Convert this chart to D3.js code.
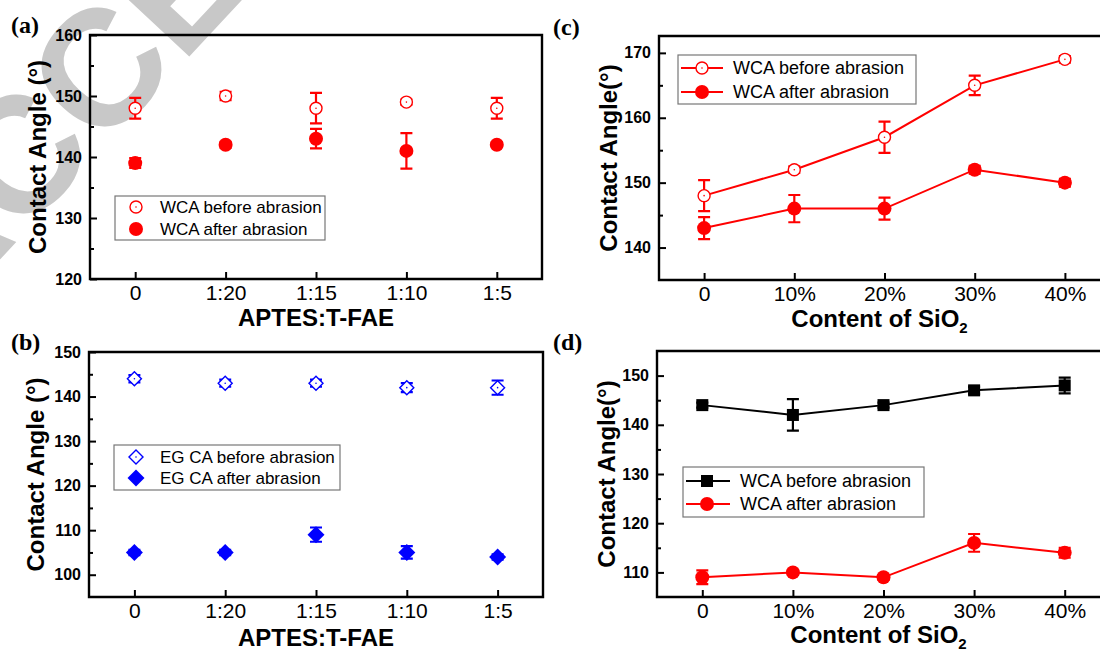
<!DOCTYPE html>
<html>
<head>
<meta charset="utf-8">
<script src="https://cdn.jsdelivr.net/npm/d3@7"></script>
<style>
  body { margin: 0; background: #fff; }
  text { font-family: "Liberation Sans", Arial, sans-serif; }
</style>
</head>
<body>
<script>
// x categories
var ratioLabels = ['0', '1:20', '1:15', '1:10', '1:5'];
var sio2Labels = ['0', '10%', '20%', '30%', '40%'];

// (a) water contact angle vs APTES:T-FAE
var wcaBeforeA = [148, 150, 148, 149, 148];
var wcaBeforeErrA = [1.7, 0.7, 2.5, 0.4, 1.7];
var wcaAfterA = [139, 142, 143, 141, 142];
var wcaAfterErrA = [0.8, 0.5, 1.6, 2.9, 0.4];

// (b) ethylene glycol contact angle vs APTES:T-FAE
var egBeforeB = [144, 143, 143, 142, 142];
var egBeforeErrB = [0.8, 0.8, 0.8, 1.0, 1.6];
var egAfterB = [105, 105, 109, 105, 104];
var egAfterErrB = [0.6, 0.6, 1.6, 1.4, 0.6];

// (c) water contact angle vs SiO2 content
var wcaBeforeC = [148, 152, 157, 165, 169];
var wcaBeforeErrC = [2.4, 0.5, 2.4, 1.5, 0.5];
var wcaAfterC = [143, 146, 146, 152, 150];
var wcaAfterErrC = [1.7, 2.1, 1.7, 0.6, 0.6];

// (d) contact angle vs SiO2 content
var wcaBeforeD = [144, 142, 144, 147, 148];
var wcaBeforeErrD = [0.5, 3.2, 0.5, 0.7, 1.6];
var wcaAfterD = [109, 110, 109, 116, 114];
var wcaAfterErrD = [1.4, 0.5, 0.5, 1.8, 1.0];

var svg = d3.select("body").append("svg")
    .attr("width", 1100)
    .attr("height", 653);

// faint "accepted manuscript" stamp behind the panels
svg.append("text")
    .attr("transform", "translate(-62,326) rotate(-47)")
    .attr("font-size", 165)
    .attr("font-weight", "bold")
    .attr("fill", "#c8c8c8")
    .text("ACCEPTED MANUSCRIPT");

function marker(g, type, color) {
  if (type == "openCircle") {
    g.append("circle").attr("r", 6).attr("fill", "#fff").attr("stroke", color).attr("stroke-width", 1.4);
    g.append("circle").attr("r", 0.8).attr("fill", color);
  } else if (type == "circle") {
    g.append("circle").attr("r", 7).attr("fill", color);
  } else if (type == "openDiamond") {
    g.append("path").attr("d", "M0,-7L7,0L0,7L-7,0Z").attr("fill", "#fff").attr("stroke", color).attr("stroke-width", 1.4);
    g.append("circle").attr("r", 0.8).attr("fill", color);
  } else if (type == "diamond") {
    g.append("path").attr("d", "M0,-8.5L8.5,0L0,8.5L-8.5,0Z").attr("fill", color);
  } else if (type == "square") {
    g.append("rect").attr("x", -6).attr("y", -6).attr("width", 12).attr("height", 12).attr("fill", color);
  }
}

function panel(p) {
  var x = d3.scaleLinear().domain([-0.5, 4.5]).range([p.left, p.right]);
  var y = d3.scaleLinear().domain(p.yDomain).range([p.bottom, p.top]);
  var g = svg.append("g");

  // minor ticks
  g.append("g")
      .attr("transform", "translate(" + p.left + ",0)")
      .call(d3.axisLeft(y).tickValues(p.yMinor).tickSize(-4).tickFormat(""))
      .call(function(s) { s.select(".domain").remove(); s.selectAll("line").attr("stroke-width", 2); });

  g.append("g")
      .attr("transform", "translate(" + p.left + ",0)")
      .call(d3.axisLeft(y).tickValues(p.yTicks).tickSize(-7).tickPadding(8))
      .call(function(s) {
        s.select(".domain").remove();
        s.selectAll("line").attr("stroke-width", 2);
        s.selectAll("text").attr("font-size", 16).attr("font-weight", "bold").attr("fill", "#000");
      });

  g.append("g")
      .attr("transform", "translate(0," + p.bottom + ")")
      .call(d3.axisBottom(x).tickValues([0, 1, 2, 3, 4]).tickSize(-7).tickPadding(6)
              .tickFormat(function(i) { return p.xLabels[i]; }))
      .call(function(s) {
        s.select(".domain").remove();
        s.selectAll("line").attr("stroke-width", 2);
        s.selectAll("text").attr("font-size", 21).attr("fill", "#000");
      });

  // frame
  g.append("path")
      .attr("d", "M" + p.left + "," + p.top + "H" + p.right + "V" + p.bottom + "H" + p.left + "Z")
      .attr("fill", "none").attr("stroke", "#000").attr("stroke-width", 2.4);

  p.series.forEach(function(s) {
    if (s.line) {
      g.append("path")
          .attr("d", d3.line().x(function(d, i) { return x(i); }).y(function(d) { return y(d); })(s.values))
          .attr("fill", "none").attr("stroke", s.color).attr("stroke-width", 2);
    }
    s.values.forEach(function(v, i) {
      var e = s.errors[i];
      var cx = x(i);
      g.append("path")
          .attr("d", "M" + cx + "," + y(v - e) + "V" + y(v + e) +
                     "M" + (cx - 6) + "," + y(v - e) + "H" + (cx + 6) +
                     "M" + (cx - 6) + "," + y(v + e) + "H" + (cx + 6))
          .attr("fill", "none").attr("stroke", s.color).attr("stroke-width", 2.2);
      marker(g.append("g").attr("transform", "translate(" + cx + "," + y(v) + ")"), s.marker, s.color);
    });
  });

  // legend
  var L = p.legend;
  g.append("rect")
      .attr("x", L.x).attr("y", L.y).attr("width", L.w).attr("height", L.h)
      .attr("fill", "#fff").attr("stroke", "#777").attr("stroke-width", 1.2);
  p.series.forEach(function(s, k) {
    var ry = L.rows[k];
    if (s.line) {
      g.append("line").attr("x1", L.x + 3).attr("x2", L.x + 3 + L.lineW)
          .attr("y1", ry).attr("y2", ry).attr("stroke", s.color).attr("stroke-width", 2);
    }
    marker(g.append("g").attr("transform", "translate(" + L.mx + "," + ry + ")"), s.marker, s.color);
    g.append("text").attr("x", L.tx).attr("y", ry).attr("dy", "0.36em")
        .attr("font-size", L.fs).text(s.name);
  });

  // axis titles
  g.append("text")
      .attr("transform", "translate(" + p.yTitleX + "," + ((p.top + p.bottom) / 2) + ") rotate(-90)")
      .attr("text-anchor", "middle").attr("font-size", 24).attr("font-weight", "bold")
      .text(p.yTitle);
  var xt = g.append("text")
      .attr("x", (p.left + Math.min(p.right, 1100)) / 2).attr("y", p.xTitleY)
      .attr("text-anchor", "middle").attr("font-size", 24).attr("font-weight", "bold");
  xt.append("tspan").text(p.xTitle);
  if (p.xSub) {
    xt.append("tspan").attr("font-size", 15).attr("dy", 6).text(p.xSub);
  }

  svg.append("text")
      .attr("x", p.tagX).attr("y", p.tagY)
      .style("font-family", "'Liberation Serif', 'Times New Roman', serif")
      .attr("font-weight", "bold").attr("font-size", 24)
      .text(p.tag);
}

panel({
  tag: "(a)", tagX: 11, tagY: 33,
  left: 90, right: 542, top: 35, bottom: 279,
  yDomain: [120, 160], yTicks: [120, 130, 140, 150, 160], yMinor: [125, 135, 145, 155],
  xLabels: ratioLabels,
  yTitle: "Contact Angle (\u00b0)", yTitleX: 46,
  xTitle: "APTES:T-FAE", xTitleY: 326,
  series: [
    {name: "WCA before abrasion", values: wcaBeforeA, errors: wcaBeforeErrA, marker: "openCircle", color: "#ff0000"},
    {name: "WCA after abrasion", values: wcaAfterA, errors: wcaAfterErrA, marker: "circle", color: "#ff0000"}
  ],
  legend: {x: 115, y: 196, w: 210, h: 44, rows: [207, 229], mx: 136, tx: 160, fs: 17}
});

panel({
  tag: "(b)", tagX: 11, tagY: 350,
  left: 89, right: 543, top: 352, bottom: 597,
  yDomain: [95, 150], yTicks: [100, 110, 120, 130, 140, 150], yMinor: [105, 115, 125, 135, 145],
  xLabels: ratioLabels,
  yTitle: "Contact Angle (\u00b0)", yTitleX: 44,
  xTitle: "APTES:T-FAE", xTitleY: 646,
  series: [
    {name: "EG CA before abrasion", values: egBeforeB, errors: egBeforeErrB, marker: "openDiamond", color: "#0000ff"},
    {name: "EG CA after abrasion", values: egAfterB, errors: egAfterErrB, marker: "diamond", color: "#0000ff"}
  ],
  legend: {x: 114, y: 445, w: 226, h: 45, rows: [457, 478], mx: 136, tx: 160, fs: 17}
});

panel({
  tag: "(c)", tagX: 553, tagY: 35,
  left: 659, right: 1110, top: 36, bottom: 280,
  yDomain: [135, 172.6], yTicks: [140, 150, 160, 170], yMinor: [145, 155, 165],
  xLabels: sio2Labels,
  yTitle: "Contact Angle(\u00b0)", yTitleX: 617,
  xTitle: "Content of SiO", xSub: "2", xTitleY: 327,
  series: [
    {name: "WCA before abrasion", values: wcaBeforeC, errors: wcaBeforeErrC, marker: "openCircle", color: "#ff0000", line: true},
    {name: "WCA after abrasion", values: wcaAfterC, errors: wcaAfterErrC, marker: "circle", color: "#ff0000", line: true}
  ],
  legend: {x: 678, y: 55, w: 238, h: 49, rows: [68, 92], mx: 702, lineW: 42, tx: 733, fs: 18}
});

panel({
  tag: "(d)", tagX: 553, tagY: 350,
  left: 657, right: 1110, top: 351, bottom: 597,
  yDomain: [105, 155], yTicks: [110, 120, 130, 140, 150], yMinor: [115, 125, 135, 145],
  xLabels: sio2Labels,
  yTitle: "Contact Angle(\u00b0)", yTitleX: 615,
  xTitle: "Content of SiO", xSub: "2", xTitleY: 643,
  series: [
    {name: "WCA before abrasion", values: wcaBeforeD, errors: wcaBeforeErrD, marker: "square", color: "#000000", line: true},
    {name: "WCA after abrasion", values: wcaAfterD, errors: wcaAfterErrD, marker: "circle", color: "#ff0000", line: true}
  ],
  legend: {x: 683, y: 467, w: 241, h: 50, rows: [481, 504], mx: 707, lineW: 44, tx: 740, fs: 18}
});
</script>
</body>
</html>
